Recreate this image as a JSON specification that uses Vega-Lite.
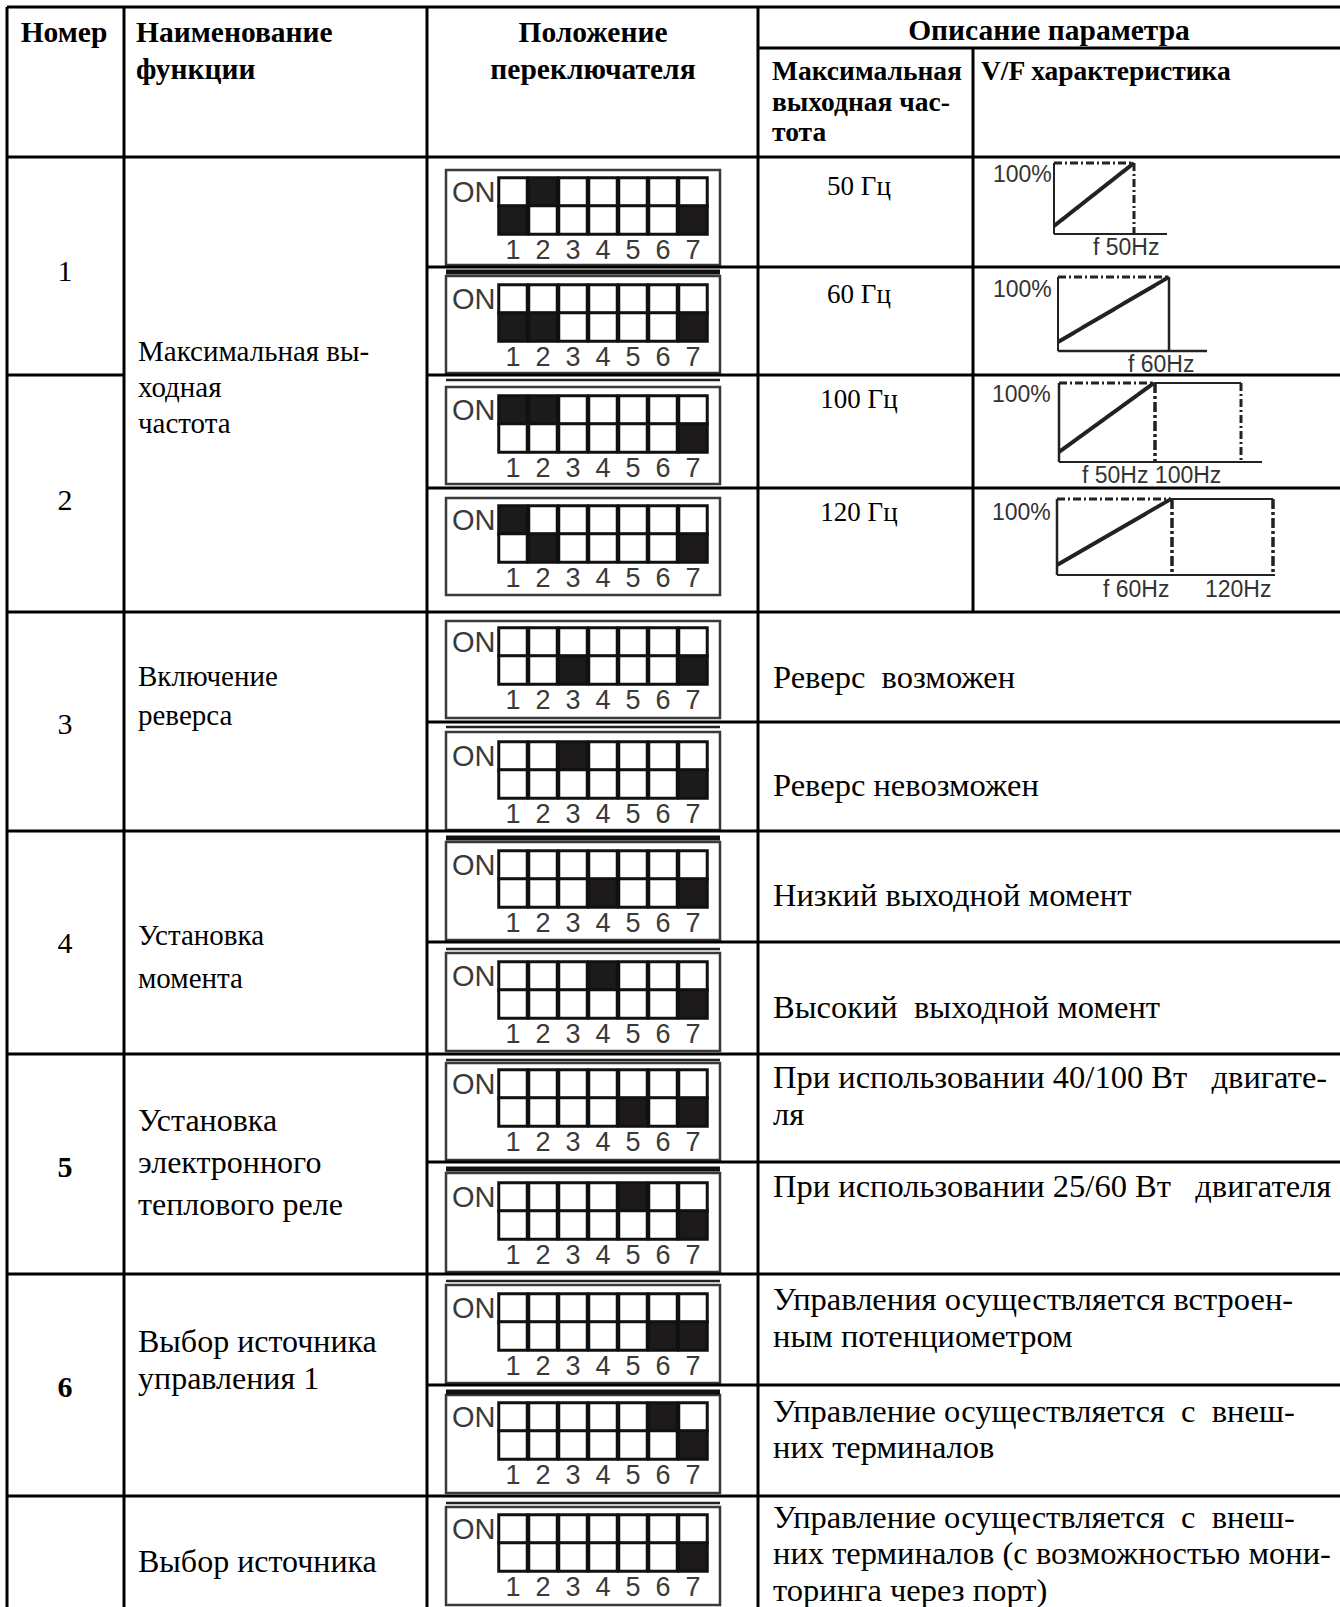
{
"$schema": "https://vega.github.io/schema/vega-lite/v6.json",
"width": 1340, "height": 1607, "padding": 0, "autosize": {"type": "none"},
"background": "white",
"config": {"view": {"stroke": null}},
"datasets": {
"lines": [
{"x":7,"x2":1340,"y":7,"y2":7},
{"x":758,"x2":1340,"y":48,"y2":48},
{"x":7,"x2":1340,"y":157,"y2":157},
{"x":427,"x2":1340,"y":267,"y2":267},
{"x":7,"x2":124,"y":375,"y2":375},
{"x":427,"x2":1340,"y":375,"y2":375},
{"x":427,"x2":1340,"y":488,"y2":488},
{"x":7,"x2":1340,"y":612,"y2":612},
{"x":427,"x2":1340,"y":722,"y2":722},
{"x":7,"x2":1340,"y":831,"y2":831},
{"x":427,"x2":1340,"y":942,"y2":942},
{"x":7,"x2":1340,"y":1054,"y2":1054},
{"x":427,"x2":1340,"y":1162,"y2":1162},
{"x":7,"x2":1340,"y":1274,"y2":1274},
{"x":427,"x2":1340,"y":1385,"y2":1385},
{"x":7,"x2":1340,"y":1496,"y2":1496},
{"x":7,"x2":7,"y":7,"y2":1607},
{"x":124,"x2":124,"y":7,"y2":1607},
{"x":427,"x2":427,"y":7,"y2":1607},
{"x":758,"x2":758,"y":7,"y2":1607},
{"x":973,"x2":973,"y":48,"y2":612}
],
"sw": [
{"id":"1a","fx":446,"fx2":720,"f":170,"fb":265,"ox":452,"yo":202,"yu":192,"yd":220,"yn":259,"tbar":null,"kbar":null,"1":"d","2":"u","3":"","4":"","5":"","6":"","7":"d"},
{"id":"1b","fx":446,"fx2":720,"f":276,"fb":373,"ox":452,"yo":309,"yu":299,"yd":327,"yn":366,"tbar":null,"kbar":272,"1":"d","2":"d","3":"","4":"","5":"","6":"","7":"d"},
{"id":"2a","fx":446,"fx2":720,"f":387,"fb":484,"ox":452,"yo":420,"yu":410,"yd":438,"yn":477,"tbar":380,"kbar":null,"1":"u","2":"u","3":"","4":"","5":"","6":"","7":"d"},
{"id":"2b","fx":446,"fx2":720,"f":498,"fb":595,"ox":452,"yo":530,"yu":520,"yd":548,"yn":587,"tbar":null,"kbar":null,"1":"u","2":"d","3":"","4":"","5":"","6":"","7":"d"},
{"id":"3a","fx":446,"fx2":720,"f":621,"fb":718,"ox":452,"yo":652,"yu":642,"yd":670,"yn":709,"tbar":null,"kbar":null,"1":"","2":"","3":"d","4":"","5":"","6":"","7":"d"},
{"id":"3b","fx":446,"fx2":720,"f":732,"fb":830,"ox":452,"yo":766,"yu":756,"yd":784,"yn":823,"tbar":727,"kbar":null,"1":"","2":"","3":"u","4":"","5":"","6":"","7":"d"},
{"id":"4a","fx":446,"fx2":720,"f":842,"fb":940,"ox":452,"yo":875,"yu":865,"yd":893,"yn":932,"tbar":null,"kbar":838,"1":"","2":"","3":"","4":"d","5":"","6":"","7":"d"},
{"id":"4b","fx":446,"fx2":720,"f":953,"fb":1051,"ox":452,"yo":986,"yu":976,"yd":1004,"yn":1043,"tbar":949,"kbar":null,"1":"","2":"","3":"","4":"u","5":"","6":"","7":"d"},
{"id":"5a","fx":446,"fx2":720,"f":1063,"fb":1160,"ox":452,"yo":1094,"yu":1084,"yd":1112,"yn":1151,"tbar":1060,"kbar":null,"1":"","2":"","3":"","4":"","5":"d","6":"","7":"d"},
{"id":"5b","fx":446,"fx2":720,"f":1173,"fb":1272,"ox":452,"yo":1207,"yu":1197,"yd":1225,"yn":1264,"tbar":null,"kbar":1169,"1":"","2":"","3":"","4":"","5":"u","6":"","7":"d"},
{"id":"6a","fx":446,"fx2":720,"f":1285,"fb":1383,"ox":452,"yo":1318,"yu":1308,"yd":1336,"yn":1375,"tbar":1281,"kbar":null,"1":"","2":"","3":"","4":"","5":"","6":"d","7":"d"},
{"id":"6b","fx":446,"fx2":720,"f":1395,"fb":1493,"ox":452,"yo":1427,"yu":1417,"yd":1445,"yn":1484,"tbar":null,"kbar":1392,"1":"","2":"","3":"","4":"","5":"","6":"u","7":"d"},
{"id":"7a","fx":446,"fx2":720,"f":1507,"fb":1605,"ox":452,"yo":1539,"yu":1529,"yd":1557,"yn":1596,"tbar":1503,"kbar":null,"1":"","2":"","3":"","4":"","5":"","6":"","7":"d"}
],
"vf": [
{"x":1054,"x2":1054,"y":163,"y2":234,"p":"axis"},
{"x":1054,"x2":1167,"y":234,"y2":234,"p":"axis"},
{"x":1054,"x2":1134,"y":163,"y2":163,"p":"ref"},
{"x":1134,"x2":1134,"y":163,"y2":234,"p":"ref"},
{"x":1054,"x2":1134,"y":226,"y2":163,"p":"curve"},
{"x":1058,"x2":1058,"y":277,"y2":351,"p":"axis"},
{"x":1058,"x2":1207,"y":351,"y2":351,"p":"axisT"},
{"x":1058,"x2":1169,"y":277,"y2":277,"p":"ref"},
{"x":1169,"x2":1169,"y":277,"y2":351,"p":"axisT"},
{"x":1058,"x2":1169,"y":342,"y2":277,"p":"curve"},
{"x":1059,"x2":1059,"y":383,"y2":462,"p":"axisT"},
{"x":1059,"x2":1262,"y":462,"y2":462,"p":"axis"},
{"x":1059,"x2":1154,"y":383,"y2":383,"p":"ref"},
{"x":1154,"x2":1241,"y":383,"y2":383,"p":"axis"},
{"x":1155,"x2":1155,"y":383,"y2":462,"p":"refT"},
{"x":1241,"x2":1241,"y":383,"y2":462,"p":"ref"},
{"x":1059,"x2":1154,"y":452,"y2":383,"p":"curve"},
{"x":1057,"x2":1057,"y":499,"y2":575,"p":"axisT"},
{"x":1057,"x2":1275,"y":575,"y2":575,"p":"axis"},
{"x":1057,"x2":1171,"y":499,"y2":499,"p":"ref"},
{"x":1171,"x2":1273,"y":499,"y2":499,"p":"axis"},
{"x":1172,"x2":1172,"y":499,"y2":575,"p":"refT"},
{"x":1273,"x2":1273,"y":499,"y2":575,"p":"refT"},
{"x":1057,"x2":1171,"y":565,"y2":499,"p":"curve"}
],
"texts": [
{"t":"Номер","x":64,"y":42,"k":"hc"},
{"t":"Положение","x":593,"y":42,"k":"hc"},
{"t":"переключателя","x":593,"y":79,"k":"hc"},
{"t":"Описание параметра","x":1049,"y":40,"k":"hc"},
{"t":"Наименование","x":136,"y":42,"k":"hl"},
{"t":"функции","x":136,"y":79,"k":"hl"},
{"t":"Максимальная","x":772,"y":80,"k":"sh"},
{"t":"выходная час-","x":772,"y":111,"k":"sh"},
{"t":"тота","x":772,"y":141,"k":"sh"},
{"t":"V/F характеристика","x":981,"y":80,"k":"sh"},
{"t":"1","x":65,"y":281,"k":"nc"},
{"t":"2","x":65,"y":510,"k":"nc"},
{"t":"3","x":65,"y":734,"k":"nc"},
{"t":"4","x":65,"y":953,"k":"nc"},
{"t":"5","x":65,"y":1177,"k":"nb"},
{"t":"6","x":65,"y":1397,"k":"nb"},
{"t":"Максимальная вы-","x":138,"y":361,"k":"fn"},
{"t":"ходная","x":138,"y":397,"k":"fn"},
{"t":"частота","x":138,"y":433,"k":"fn"},
{"t":"Включение","x":138,"y":686,"k":"fn"},
{"t":"реверса","x":138,"y":725,"k":"fn"},
{"t":"Установка","x":138,"y":945,"k":"fn"},
{"t":"момента","x":138,"y":988,"k":"fn"},
{"t":"Установка","x":138,"y":1131,"k":"fn2"},
{"t":"электронного","x":138,"y":1173,"k":"fn2"},
{"t":"теплового реле","x":138,"y":1215,"k":"fn2"},
{"t":"Выбор источника","x":138,"y":1352,"k":"fn2"},
{"t":"управления 1","x":138,"y":1389,"k":"fn2"},
{"t":"Выбор источника","x":138,"y":1572,"k":"fn2"},
{"t":"50 Гц","x":859,"y":195,"k":"fq"},
{"t":"60 Гц","x":859,"y":303,"k":"fq"},
{"t":"100 Гц","x":859,"y":408,"k":"fq"},
{"t":"120 Гц","x":859,"y":521,"k":"fq"},
{"t":"Реверс\u00a0\u00a0возможен","x":773,"y":688,"k":"ds"},
{"t":"Реверс невозможен","x":773,"y":796,"k":"ds"},
{"t":"Низкий выходной момент","x":773,"y":906,"k":"ds"},
{"t":"Высокий\u00a0\u00a0выходной момент","x":773,"y":1018,"k":"ds"},
{"t":"При использовании 40/100 Вт\u00a0\u00a0\u00a0двигате-","x":773,"y":1088,"k":"ds"},
{"t":"ля","x":773,"y":1125,"k":"ds"},
{"t":"При использовании 25/60 Вт\u00a0\u00a0\u00a0двигателя","x":773,"y":1197,"k":"ds"},
{"t":"Управления осуществляется встроен-","x":773,"y":1310,"k":"ds"},
{"t":"ным потенциометром","x":773,"y":1347,"k":"ds"},
{"t":"Управление осуществляется\u00a0\u00a0с\u00a0\u00a0внеш-","x":773,"y":1422,"k":"ds"},
{"t":"них терминалов","x":773,"y":1458,"k":"ds"},
{"t":"Управление осуществляется\u00a0\u00a0с\u00a0\u00a0внеш-","x":773,"y":1528,"k":"ds"},
{"t":"них терминалов (с возможностью мони-","x":773,"y":1564,"k":"ds"},
{"t":"торинга через порт)","x":773,"y":1601,"k":"ds"},
{"t":"100%","x":993,"y":182,"k":"vf"},
{"t":"100%","x":993,"y":297,"k":"vf"},
{"t":"100%","x":992,"y":402,"k":"vf"},
{"t":"100%","x":992,"y":520,"k":"vf"},
{"t":"f 50Hz","x":1093,"y":255,"k":"vf"},
{"t":"f 60Hz","x":1128,"y":372,"k":"vf"},
{"t":"f 50Hz 100Hz","x":1082,"y":483,"k":"vf"},
{"t":"f 60Hz","x":1103,"y":597,"k":"vf"},
{"t":"120Hz","x":1205,"y":597,"k":"vf"}
]
},
"resolve": {"scale": {"x": "independent"}},
"layer": [
{"data": {"name": "sw"},
 "mark": {"type": "rect", "filled": false, "stroke": "#3a3a3a", "strokeWidth": 2.5},
 "encoding": {
  "x": {"field": "fx", "type": "quantitative", "scale": {"domain": [0, 1340], "nice": false, "zero": false}, "axis": null},
  "x2": {"field": "fx2"},
  "y": {"field": "f", "type": "quantitative", "scale": {"domain": [0, 1607], "nice": false, "zero": false, "reverse": true}, "axis": null},
  "y2": {"field": "fb"}}},
{"data": {"name": "sw"},
 "mark": {"type": "rule", "stroke": "#222", "strokeWidth": 2.5},
 "encoding": {
  "x": {"field": "fx", "type": "quantitative", "scale": {"domain": [0, 1340], "nice": false, "zero": false}, "axis": null},
  "x2": {"field": "fx2"},
  "y": {"field": "tbar", "type": "quantitative", "scale": {"domain": [0, 1607], "nice": false, "zero": false, "reverse": true}, "axis": null}}},
{"data": {"name": "sw"},
 "mark": {"type": "rule", "stroke": "#111", "strokeWidth": 5},
 "encoding": {
  "x": {"field": "fx", "type": "quantitative", "scale": {"domain": [0, 1340], "nice": false, "zero": false}, "axis": null},
  "x2": {"field": "fx2"},
  "y": {"field": "kbar", "type": "quantitative", "scale": {"domain": [0, 1607], "nice": false, "zero": false, "reverse": true}, "axis": null}}},
{"data": {"name": "sw"},
 "transform": [{"fold": ["1","2","3","4","5","6","7"], "as": ["pin", "state"]}],
 "mark": {"type": "point", "shape": "square", "filled": true, "size": 812, "opacity": 1, "stroke": "#111", "strokeWidth": 3},
 "encoding": {
  "x": {"field": "pin", "type": "ordinal", "scale": {"type": "point", "domain": ["1","2","3","4","5","6","7"], "range": [513, 693], "padding": 0}, "axis": null},
  "y": {"field": "yu", "type": "quantitative", "scale": {"domain": [0, 1607], "nice": false, "zero": false, "reverse": true}, "axis": null},
  "fill": {"condition": {"test": "datum.state === 'u'", "value": "#1c1a1a"}, "value": "white"}}},
{"data": {"name": "sw"},
 "transform": [{"fold": ["1","2","3","4","5","6","7"], "as": ["pin", "state"]}],
 "mark": {"type": "point", "shape": "square", "filled": true, "size": 812, "opacity": 1, "stroke": "#111", "strokeWidth": 3},
 "encoding": {
  "x": {"field": "pin", "type": "ordinal", "scale": {"type": "point", "domain": ["1","2","3","4","5","6","7"], "range": [513, 693], "padding": 0}, "axis": null},
  "y": {"field": "yd", "type": "quantitative", "scale": {"domain": [0, 1607], "nice": false, "zero": false, "reverse": true}, "axis": null},
  "fill": {"condition": {"test": "datum.state === 'd'", "value": "#1c1a1a"}, "value": "white"}}},
{"data": {"name": "sw"},
 "transform": [{"fold": ["1","2","3","4","5","6","7"], "as": ["pin", "state"]}],
 "mark": {"type": "text", "font": "Liberation Sans", "fontSize": 27, "fill": "#3a3a3a", "align": "center", "baseline": "alphabetic"},
 "encoding": {
  "x": {"field": "pin", "type": "ordinal", "scale": {"type": "point", "domain": ["1","2","3","4","5","6","7"], "range": [513, 693], "padding": 0}, "axis": null},
  "y": {"field": "yn", "type": "quantitative", "scale": {"domain": [0, 1607], "nice": false, "zero": false, "reverse": true}, "axis": null},
  "text": {"field": "pin"}}},
{"data": {"name": "sw"},
 "mark": {"type": "text", "font": "Liberation Sans", "fontSize": 29, "fill": "#3a3a3a", "align": "left", "baseline": "alphabetic"},
 "encoding": {
  "x": {"field": "ox", "type": "quantitative", "scale": {"domain": [0, 1340], "nice": false, "zero": false}, "axis": null},
  "y": {"field": "yo", "type": "quantitative", "scale": {"domain": [0, 1607], "nice": false, "zero": false, "reverse": true}, "axis": null},
  "text": {"value": "ON"}}},
{"data": {"name": "vf"},
 "mark": {"type": "rule", "stroke": "#222"},
 "encoding": {
  "x": {"field": "x", "type": "quantitative", "scale": {"domain": [0, 1340], "nice": false, "zero": false}, "axis": null},
  "x2": {"field": "x2"},
  "y": {"field": "y", "type": "quantitative", "scale": {"domain": [0, 1607], "nice": false, "zero": false, "reverse": true}, "axis": null},
  "y2": {"field": "y2"},
  "strokeWidth": {"field": "p", "type": "ordinal", "scale": {"domain": ["axis","axisT","ref","refT","curve"], "range": [2, 4, 1.6, 4, 3]}, "legend": null},
  "strokeDash": {"field": "p", "type": "ordinal", "scale": {"domain": ["axis","axisT","ref","refT","curve"], "range": [[1,0],[1,0],[8,3,2,3],[10,3,3,3],[1,0]]}, "legend": null}}},
{"data": {"name": "lines"},
 "mark": {"type": "rule", "stroke": "#000", "strokeWidth": 3},
 "encoding": {
  "x": {"field": "x", "type": "quantitative", "scale": {"domain": [0, 1340], "nice": false, "zero": false}, "axis": null},
  "x2": {"field": "x2"},
  "y": {"field": "y", "type": "quantitative", "scale": {"domain": [0, 1607], "nice": false, "zero": false, "reverse": true}, "axis": null},
  "y2": {"field": "y2"}}},
{"data": {"name": "texts"}, "transform": [{"filter": "datum.k === 'hc'"}],
 "mark": {"type": "text", "font": "Liberation Serif", "fontSize": 29.5, "fontWeight": "bold", "align": "center", "baseline": "alphabetic", "fill": "#000"},
 "encoding": {
  "x": {"field": "x", "type": "quantitative", "scale": {"domain": [0, 1340], "nice": false, "zero": false}, "axis": null},
  "y": {"field": "y", "type": "quantitative", "scale": {"domain": [0, 1607], "nice": false, "zero": false, "reverse": true}, "axis": null},
  "text": {"field": "t"}}},
{"data": {"name": "texts"}, "transform": [{"filter": "datum.k === 'hl'"}],
 "mark": {"type": "text", "font": "Liberation Serif", "fontSize": 29.5, "fontWeight": "bold", "align": "left", "baseline": "alphabetic", "fill": "#000"},
 "encoding": {
  "x": {"field": "x", "type": "quantitative", "scale": {"domain": [0, 1340], "nice": false, "zero": false}, "axis": null},
  "y": {"field": "y", "type": "quantitative", "scale": {"domain": [0, 1607], "nice": false, "zero": false, "reverse": true}, "axis": null},
  "text": {"field": "t"}}},
{"data": {"name": "texts"}, "transform": [{"filter": "datum.k === 'sh'"}],
 "mark": {"type": "text", "font": "Liberation Serif", "fontSize": 27.5, "fontWeight": "bold", "align": "left", "baseline": "alphabetic", "fill": "#000"},
 "encoding": {
  "x": {"field": "x", "type": "quantitative", "scale": {"domain": [0, 1340], "nice": false, "zero": false}, "axis": null},
  "y": {"field": "y", "type": "quantitative", "scale": {"domain": [0, 1607], "nice": false, "zero": false, "reverse": true}, "axis": null},
  "text": {"field": "t"}}},
{"data": {"name": "texts"}, "transform": [{"filter": "datum.k === 'nc'"}],
 "mark": {"type": "text", "font": "Liberation Serif", "fontSize": 30, "align": "center", "baseline": "alphabetic", "fill": "#000"},
 "encoding": {
  "x": {"field": "x", "type": "quantitative", "scale": {"domain": [0, 1340], "nice": false, "zero": false}, "axis": null},
  "y": {"field": "y", "type": "quantitative", "scale": {"domain": [0, 1607], "nice": false, "zero": false, "reverse": true}, "axis": null},
  "text": {"field": "t"}}},
{"data": {"name": "texts"}, "transform": [{"filter": "datum.k === 'nb'"}],
 "mark": {"type": "text", "font": "Liberation Serif", "fontSize": 30, "fontWeight": "bold", "align": "center", "baseline": "alphabetic", "fill": "#000"},
 "encoding": {
  "x": {"field": "x", "type": "quantitative", "scale": {"domain": [0, 1340], "nice": false, "zero": false}, "axis": null},
  "y": {"field": "y", "type": "quantitative", "scale": {"domain": [0, 1607], "nice": false, "zero": false, "reverse": true}, "axis": null},
  "text": {"field": "t"}}},
{"data": {"name": "texts"}, "transform": [{"filter": "datum.k === 'fn'"}],
 "mark": {"type": "text", "font": "Liberation Serif", "fontSize": 29, "align": "left", "baseline": "alphabetic", "fill": "#000"},
 "encoding": {
  "x": {"field": "x", "type": "quantitative", "scale": {"domain": [0, 1340], "nice": false, "zero": false}, "axis": null},
  "y": {"field": "y", "type": "quantitative", "scale": {"domain": [0, 1607], "nice": false, "zero": false, "reverse": true}, "axis": null},
  "text": {"field": "t"}}},
{"data": {"name": "texts"}, "transform": [{"filter": "datum.k === 'fn2'"}],
 "mark": {"type": "text", "font": "Liberation Serif", "fontSize": 32, "align": "left", "baseline": "alphabetic", "fill": "#000"},
 "encoding": {
  "x": {"field": "x", "type": "quantitative", "scale": {"domain": [0, 1340], "nice": false, "zero": false}, "axis": null},
  "y": {"field": "y", "type": "quantitative", "scale": {"domain": [0, 1607], "nice": false, "zero": false, "reverse": true}, "axis": null},
  "text": {"field": "t"}}},
{"data": {"name": "texts"}, "transform": [{"filter": "datum.k === 'fq'"}],
 "mark": {"type": "text", "font": "Liberation Serif", "fontSize": 27, "align": "center", "baseline": "alphabetic", "fill": "#000"},
 "encoding": {
  "x": {"field": "x", "type": "quantitative", "scale": {"domain": [0, 1340], "nice": false, "zero": false}, "axis": null},
  "y": {"field": "y", "type": "quantitative", "scale": {"domain": [0, 1607], "nice": false, "zero": false, "reverse": true}, "axis": null},
  "text": {"field": "t"}}},
{"data": {"name": "texts"}, "transform": [{"filter": "datum.k === 'ds'"}],
 "mark": {"type": "text", "font": "Liberation Serif", "fontSize": 32.5, "align": "left", "baseline": "alphabetic", "fill": "#000"},
 "encoding": {
  "x": {"field": "x", "type": "quantitative", "scale": {"domain": [0, 1340], "nice": false, "zero": false}, "axis": null},
  "y": {"field": "y", "type": "quantitative", "scale": {"domain": [0, 1607], "nice": false, "zero": false, "reverse": true}, "axis": null},
  "text": {"field": "t"}}},
{"data": {"name": "texts"}, "transform": [{"filter": "datum.k === 'vf'"}],
 "mark": {"type": "text", "font": "Liberation Sans", "fontSize": 23, "align": "left", "baseline": "alphabetic", "fill": "#333"},
 "encoding": {
  "x": {"field": "x", "type": "quantitative", "scale": {"domain": [0, 1340], "nice": false, "zero": false}, "axis": null},
  "y": {"field": "y", "type": "quantitative", "scale": {"domain": [0, 1607], "nice": false, "zero": false, "reverse": true}, "axis": null},
  "text": {"field": "t"}}}
]
}
